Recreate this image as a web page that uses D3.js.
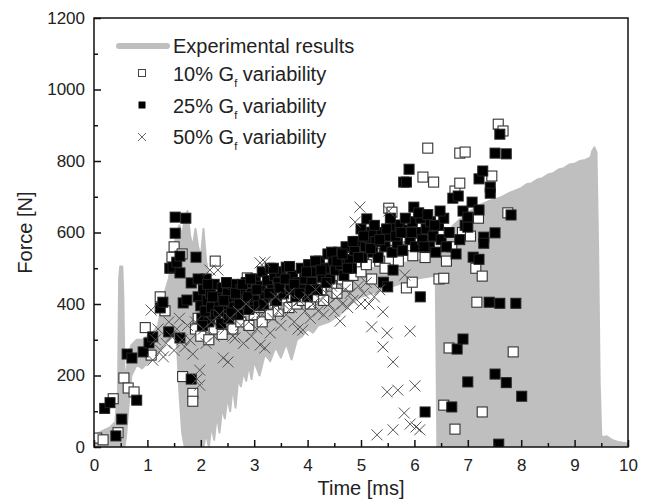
<!DOCTYPE html>
<html>
<head>
<meta charset="utf-8">
<script src="https://cdn.jsdelivr.net/npm/d3@7/dist/d3.min.js"></script>
<style>
  body { margin: 0; background: #fff; }
  svg text { font-family: "Liberation Sans", Arial, sans-serif; fill: #222; }
</style>
</head>
<body>
<div id="chart"></div>
<script>
// Data
// experimental signal drawn as a band (lower / upper envelope of the oscillating force)
var expTime = [0.00, 0.10, 0.20, 0.30, 0.40, 0.45, 0.47, 0.49, 0.53, 0.55, 0.57, 0.60, 0.65, 0.70, 0.80, 0.90,
    1.00, 1.10, 1.20, 1.30, 1.40, 1.45, 1.50, 1.55, 1.60, 1.65, 1.70, 1.75, 1.80, 1.85, 1.90, 1.95,
    2.00, 2.05, 2.10, 2.15, 2.20, 2.25, 2.30, 2.35, 2.40, 2.45, 2.50, 2.55, 2.60, 2.65, 2.70, 2.75,
    2.80, 2.85, 2.90, 2.95, 3.00, 3.10, 3.20, 3.30, 3.40, 3.50, 3.60, 3.70, 3.80, 3.90, 4.00, 4.10,
    4.20, 4.40, 4.60, 4.80, 5.00, 5.20, 5.40, 5.60, 5.80, 6.00, 6.20, 6.40, 6.43, 6.60, 6.80, 7.00,
    7.20, 7.40, 7.60, 7.80, 8.00, 8.10, 8.20, 8.30, 8.40, 8.50, 8.60, 8.70, 8.80, 8.90, 9.00, 9.10,
    9.20, 9.30, 9.33, 9.37, 9.41, 9.44, 9.47, 9.50, 9.55, 9.60, 9.70, 9.80, 9.90, 10.0];
var expLow = [0, 0, 0, 0, 0, 0, 0, 0, 0, 0, 0, 30, 120, 200, 230, 220,
    235, 245, 260, 290, 300, 310, 330, 300, 150, 40, 0, 0, 0, 0, 0, 0,
    0, 0, 40, 0, 60, 20, 90, 40, 110, 80, 140, 100, 170, 110, 190, 170,
    210, 185, 230, 190, 240, 200, 260, 240, 280, 250, 290, 245, 300, 310, 330, 320,
    340, 350, 370, 400, 420, 430, 440, 450, 460, 470, 475, 480, 0, 0, 0, 0,
    0, 0, 0, 0, 0, 0, 0, 0, 0, 0, 0, 0, 0, 0, 0, 0,
    0, 0, 0, 0, 0, 0, 0, 0, 0, 0, 0, 0, 0, 0];
var expHigh = [35, 40, 48, 55, 70, 160, 470, 505, 505, 420, 220, 200, 260, 285, 300, 300,
    310, 320, 340, 420, 470, 510, 560, 600, 620, 590, 640, 660, 590, 560, 610, 560,
    530, 610, 520, 480, 460, 450, 450, 445, 440, 440, 440, 440, 440, 440, 440, 440,
    440, 440, 445, 445, 445, 450, 450, 455, 460, 460, 465, 465, 470, 470, 475, 478,
    480, 482, 485, 490, 495, 500, 505, 510, 515, 520, 525, 530, 545, 600, 630, 655,
    675, 688, 697, 712, 724, 735, 738, 748, 752, 762, 766, 776, 780, 790, 792, 800,
    803, 810, 828, 838, 825, 560, 180, 30, 28, 30, 20, 15, 12, 10];

// 10% Gf variability [time ms, force N]
var gf10 = [
    [0.05, 25], [0.17, 20], [0.36, 135], [0.45, 40], [0.56, 193], [0.64, 165], [0.75, 154], [0.96, 334],
    [1.07, 257], [1.24, 420], [1.33, 381], [1.46, 531], [1.50, 560], [1.65, 540], [1.66, 197], [1.85, 150],
    [1.85, 128], [1.90, 330], [1.95, 360], [2.00, 310], [2.05, 400], [2.10, 350], [2.15, 300], [2.20, 380],
    [2.27, 520], [2.25, 330], [2.30, 420], [2.35, 360], [2.40, 315], [2.45, 395], [2.50, 350], [2.55, 430],
    [2.60, 330], [2.65, 380], [2.70, 410], [2.75, 350], [2.80, 390], [2.87, 473], [2.90, 340], [2.95, 410],
    [3.00, 370], [3.05, 430], [3.10, 390], [3.15, 350], [3.20, 440], [3.25, 400], [3.30, 370], [3.35, 450],
    [3.40, 410], [3.45, 380], [3.50, 430], [3.55, 400], [3.60, 450], [3.65, 390], [3.70, 420], [3.75, 460],
    [3.80, 400], [3.85, 440], [3.90, 410], [3.95, 470], [4.00, 430], [4.05, 400], [4.10, 455], [4.15, 420],
    [4.20, 480], [4.25, 440], [4.30, 410], [4.35, 470], [4.40, 500], [4.45, 450], [4.50, 480], [4.55, 430],
    [4.60, 510], [4.65, 470], [4.70, 500], [4.75, 450], [4.80, 530], [4.85, 480], [4.90, 510], [4.95, 560],
    [5.00, 490], [5.05, 540], [5.10, 510], [5.15, 580], [5.20, 470], [5.25, 550], [5.30, 600], [5.35, 520],
    [5.40, 570], [5.45, 500], [5.52, 668], [5.58, 657], [5.60, 550], [5.65, 600], [5.70, 520], [5.75, 580],
    [5.85, 445], [5.96, 461], [5.90, 560], [5.97, 535], [6.05, 620], [6.10, 570], [6.16, 755], [6.20, 530],
    [6.25, 836], [6.30, 600], [6.36, 741], [6.40, 560], [6.46, 470], [6.50, 600], [6.55, 472], [6.55, 117],
    [6.60, 520], [6.65, 277], [6.70, 560], [6.76, 716], [6.76, 50], [6.85, 738], [6.85, 822], [6.90, 600],
    [6.95, 825], [7.05, 590], [7.15, 500], [7.17, 405], [7.20, 640], [7.27, 478], [7.27, 98], [7.45, 758],
    [7.57, 903], [7.66, 884], [7.75, 655], [7.85, 266]
];

// 25% Gf variability
var gf25 = [
    [0.20, 108], [0.30, 124], [0.41, 31], [0.52, 78], [0.62, 260], [0.71, 249], [0.80, 131], [0.92, 266],
    [1.03, 291], [1.10, 308], [1.24, 389], [1.29, 405], [1.40, 322], [1.42, 500], [1.48, 503], [1.52, 643],
    [1.52, 598], [1.55, 517], [1.61, 534], [1.61, 487], [1.61, 305], [1.67, 403], [1.72, 640], [1.74, 411],
    [1.82, 459], [1.82, 190], [1.91, 531], [1.95, 420], [2.00, 395], [2.02, 360], [2.05, 440], [2.08, 380],
    [2.10, 470], [2.12, 410], [2.15, 350], [2.18, 430], [2.20, 390], [2.25, 455], [2.28, 370], [2.30, 420],
    [2.35, 400], [2.38, 345], [2.40, 445], [2.45, 380], [2.50, 430], [2.52, 360], [2.55, 410], [2.60, 455],
    [2.62, 390], [2.68, 420], [2.70, 370], [2.75, 440], [2.80, 400], [2.85, 460], [2.90, 385], [2.95, 430],
    [3.00, 410], [3.02, 470], [3.08, 395], [3.12, 450], [3.15, 490], [3.20, 420], [3.25, 465], [3.30, 500],
    [3.33, 440], [3.38, 480], [3.42, 410], [3.45, 460], [3.50, 490], [3.55, 430], [3.60, 503], [3.62, 470],
    [3.68, 440], [3.72, 480], [3.78, 420], [3.82, 460], [3.88, 500], [3.92, 440], [3.95, 470], [4.00, 420],
    [4.02, 510], [4.08, 460], [4.12, 490], [4.18, 440], [4.22, 520], [4.28, 475], [4.32, 500], [4.38, 540],
    [4.42, 470], [4.48, 520], [4.52, 495], [4.58, 545], [4.62, 510], [4.68, 480], [4.72, 560], [4.78, 525],
    [4.82, 500], [4.88, 550], [4.92, 575], [5.00, 610], [5.02, 530], [5.08, 560], [5.11, 638], [5.15, 585],
    [5.20, 601], [5.22, 545], [5.28, 575], [5.32, 530], [5.38, 600], [5.42, 461], [5.45, 560], [5.50, 448],
    [5.52, 590], [5.58, 545], [5.60, 495], [5.62, 615], [5.68, 570], [5.73, 621], [5.78, 550], [5.80, 741],
    [5.85, 741], [5.88, 607], [5.90, 777], [5.92, 580], [5.96, 630], [5.99, 671], [6.02, 560], [6.05, 600],
    [6.11, 420], [6.12, 640], [6.15, 580], [6.20, 98], [6.22, 610], [6.28, 560], [6.30, 630], [6.35, 590],
    [6.40, 545], [6.45, 620], [6.50, 580], [6.55, 640], [6.60, 560], [6.65, 600], [6.70, 112], [6.72, 696],
    [6.78, 540], [6.80, 274], [6.82, 702], [6.85, 580], [6.91, 660], [6.91, 302], [6.95, 620], [7.00, 643],
    [7.00, 615], [7.00, 182], [7.08, 685], [7.10, 531], [7.21, 663], [7.21, 750], [7.21, 525], [7.28, 772],
    [7.30, 587], [7.30, 570], [7.40, 405], [7.42, 727], [7.42, 710], [7.51, 822], [7.51, 599], [7.51, 204],
    [7.58, 8], [7.60, 875], [7.60, 402], [7.72, 820], [7.72, 180], [7.81, 649], [7.90, 402], [8.01, 142],
    [1.95, 470], [2.03, 340], [2.13, 455], [2.22, 420], [2.33, 380], [2.43, 410], [2.48, 460], [2.57, 375],
    [2.65, 430], [2.72, 400], [2.78, 455], [2.88, 420], [2.93, 470], [3.05, 440], [3.18, 400], [3.28, 430],
    [3.36, 500], [3.48, 445], [3.58, 470], [3.66, 505], [3.75, 455], [3.85, 430], [3.98, 490], [4.05, 440],
    [4.15, 520], [4.25, 495], [4.35, 460], [4.45, 545], [4.55, 520], [4.65, 540], [4.75, 500], [4.85, 575],
    [4.95, 530], [5.05, 590], [5.18, 555], [5.25, 620], [5.35, 580], [5.48, 610], [5.55, 640], [5.65, 590],
    [5.75, 600], [5.83, 640], [5.95, 600], [6.08, 655], [6.18, 560], [6.25, 650], [6.38, 620], [6.48, 660]
];

// 50% Gf variability
var gf50 = [
    [1.07, 383], [1.10, 243], [1.15, 300], [1.20, 330], [1.25, 270], [1.30, 252], [1.35, 290], [1.40, 350],
    [1.45, 310], [1.50, 270], [1.55, 330], [1.60, 360], [1.65, 300], [1.70, 280], [1.75, 340], [1.80, 299],
    [1.85, 260], [1.90, 350], [1.93, 190], [1.98, 173], [1.98, 215], [2.05, 330], [2.10, 290], [2.17, 495],
    [2.20, 350], [2.25, 310], [2.32, 495], [2.35, 370], [2.42, 249], [2.45, 330], [2.51, 238], [2.55, 360],
    [2.60, 310], [2.64, 305], [2.70, 380], [2.75, 340], [2.80, 290], [2.85, 400], [2.90, 350], [2.95, 310],
    [3.00, 380], [3.05, 330], [3.11, 515], [3.11, 285], [3.15, 370], [3.20, 518], [3.20, 277], [3.25, 400],
    [3.30, 319], [3.35, 360], [3.40, 420], [3.45, 380], [3.50, 340], [3.55, 400], [3.60, 370], [3.65, 430],
    [3.70, 390], [3.75, 350], [3.82, 330], [3.85, 410], [3.91, 327], [3.95, 380], [4.00, 420], [4.05, 360],
    [4.10, 400], [4.15, 440], [4.20, 380], [4.25, 410], [4.30, 370], [4.35, 430], [4.40, 400], [4.45, 450],
    [4.50, 380], [4.55, 420], [4.61, 352], [4.65, 400], [4.70, 440], [4.75, 390], [4.80, 430], [4.85, 410],
    [4.89, 629], [4.95, 450], [4.98, 671], [5.00, 400], [5.05, 430], [5.10, 460], [5.15, 400], [5.20, 336],
    [5.25, 420], [5.30, 34], [5.35, 440], [5.41, 378], [5.41, 280], [5.49, 319], [5.49, 154], [5.52, 660],
    [5.60, 238], [5.60, 48], [5.69, 159], [5.81, 95], [5.82, 481], [5.92, 324], [5.92, 64], [6.01, 171],
    [6.03, 56], [6.10, 48]
];

var xTicks = [0, 1, 2, 3, 4, 5, 6, 7, 8, 9, 10];
var yTicks = [0, 200, 400, 600, 800, 1000, 1200];
var legendLabels = ["Experimental results", "10% ", "25% ", "50% "];

var chart_width  = 649;
var chart_height = 500;
var margin = { top: 18, right: 21, bottom: 53, left: 94 };

var x_scale = d3.scaleLinear()
    .domain([0, 10])
    .range([margin.left, chart_width - margin.right]);

var y_scale = d3.scaleLinear()
    .domain([0, 1200])
    .range([chart_height - margin.bottom, margin.top]);

var svg = d3.select("#chart")
    .append("svg")
    .attr("width", chart_width)
    .attr("height", chart_height);

svg.append("clipPath").attr("id", "plot-clip")
    .append("rect")
    .attr("x", margin.left).attr("y", margin.top)
    .attr("width", x_scale(10) - x_scale(0))
    .attr("height", y_scale(0) - y_scale(1200));

var plot = svg.append("g").attr("clip-path", "url(#plot-clip)");

// Experimental band
var expData = expTime.map(function(t, i) {
    return { t: t, lo: expLow[i], hi: expHigh[i] };
});

var area = d3.area()
    .x(function(d) { return x_scale(d.t); })
    .y0(function(d) { return y_scale(d.lo); })
    .y1(function(d) { return y_scale(d.hi); });

plot.append("path")
    .datum(expData)
    .attr("d", area)
    .attr("fill", "#bfbfbf")
    .attr("stroke", "#bfbfbf")
    .attr("stroke-width", 2)
    .attr("stroke-linejoin", "round");

// Markers
var sq = 10;

plot.selectAll(".open")
    .data(gf10)
    .enter()
    .append("rect")
    .attr("class", "open")
    .attr("x", function(d) { return x_scale(d[0]) - sq / 2; })
    .attr("y", function(d) { return y_scale(d[1]) - sq / 2; })
    .attr("width", sq)
    .attr("height", sq)
    .attr("fill", "#fff")
    .attr("stroke", "#333")
    .attr("stroke-width", 1.1);

plot.selectAll(".filled")
    .data(gf25)
    .enter()
    .append("rect")
    .attr("class", "filled")
    .attr("x", function(d) { return x_scale(d[0]) - sq / 2; })
    .attr("y", function(d) { return y_scale(d[1]) - sq / 2; })
    .attr("width", sq)
    .attr("height", sq)
    .attr("fill", "#000")
    .attr("stroke", "#222")
    .attr("stroke-width", 1);

var cross = function(cx, cy, r) {
    return "M" + (cx - r) + "," + (cy - r) + "L" + (cx + r) + "," + (cy + r) +
        "M" + (cx - r) + "," + (cy + r) + "L" + (cx + r) + "," + (cy - r);
};

plot.selectAll(".cross")
    .data(gf50)
    .enter()
    .append("path")
    .attr("class", "cross")
    .attr("d", function(d) { return cross(x_scale(d[0]), y_scale(d[1]), 5.5); })
    .attr("stroke", "#555")
    .attr("stroke-width", 1)
    .attr("fill", "none");

// Axes
var x_axis = d3.axisBottom(x_scale).tickValues(xTicks).tickSize(-7).tickPadding(12).tickFormat(d3.format("d"));
var x_minor = d3.axisBottom(x_scale).tickValues(d3.range(0.5, 10, 1)).tickSize(-4).tickFormat("");
var y_axis = d3.axisLeft(y_scale).tickValues(yTicks).tickSize(-7).tickPadding(9).tickFormat(d3.format("d"));
var y_minor = d3.axisLeft(y_scale).tickValues(d3.range(100, 1200, 200)).tickSize(-4).tickFormat("");

[x_axis, x_minor].forEach(function(a) {
    svg.append("g")
        .attr("transform", "translate(0," + y_scale(0) + ")")
        .call(a);
});
[y_axis, y_minor].forEach(function(a) {
    svg.append("g")
        .attr("transform", "translate(" + x_scale(0) + ",0)")
        .call(a);
});

svg.selectAll(".domain").remove();
svg.selectAll(".tick line").attr("stroke", "#111").attr("stroke-width", 1.5);
svg.selectAll(".tick text")
    .style("font-size", "17px")
    .attr("fill", "#222");

// Frame
svg.append("rect")
    .attr("x", x_scale(0))
    .attr("y", y_scale(1200))
    .attr("width", x_scale(10) - x_scale(0))
    .attr("height", y_scale(0) - y_scale(1200))
    .attr("fill", "none")
    .attr("stroke", "#111")
    .attr("stroke-width", 1.5);

// Axis titles
svg.append("text")
    .attr("x", (x_scale(0) + x_scale(10)) / 2)
    .attr("y", 495)
    .attr("text-anchor", "middle")
    .style("font-size", "20px")
    .text("Time [ms]");

svg.append("text")
    .attr("transform", "translate(32," + (y_scale(0) + y_scale(1200)) / 2 + ") rotate(-90)")
    .attr("text-anchor", "middle")
    .style("font-size", "20px")
    .text("Force [N]");

// Legend
var legend = svg.append("g");
var rowY = [46, 73, 105, 137];
var baseY = [53, 81, 113, 144];

legend.append("line")
    .attr("x1", 119).attr("x2", 167)
    .attr("y1", rowY[0]).attr("y2", rowY[0])
    .attr("stroke", "#bfbfbf")
    .attr("stroke-width", 6)
    .attr("stroke-linecap", "round");

legend.append("rect")
    .attr("x", 142 - 3.5).attr("y", rowY[1] - 3.5)
    .attr("width", 7).attr("height", 7)
    .attr("fill", "#fff").attr("stroke", "#444").attr("stroke-width", 1);

legend.append("rect")
    .attr("x", 142 - 3.5).attr("y", rowY[2] - 3.5)
    .attr("width", 7).attr("height", 7)
    .attr("fill", "#000");

legend.append("path")
    .attr("d", cross(142, rowY[3], 4))
    .attr("stroke", "#666").attr("stroke-width", 1).attr("fill", "none");

legendLabels.forEach(function(lab, i) {
    var t = legend.append("text")
        .attr("x", 173)
        .attr("y", baseY[i])
        .style("font-size", "20px");
    if (i === 0) {
        t.text(lab);
    } else {
        t.append("tspan").text(lab + "G");
        t.append("tspan").attr("dy", 6).style("font-size", "11px").text("f");
        t.append("tspan").attr("dy", -6).text(" variability");
    }
});
</script>
</body>
</html>
